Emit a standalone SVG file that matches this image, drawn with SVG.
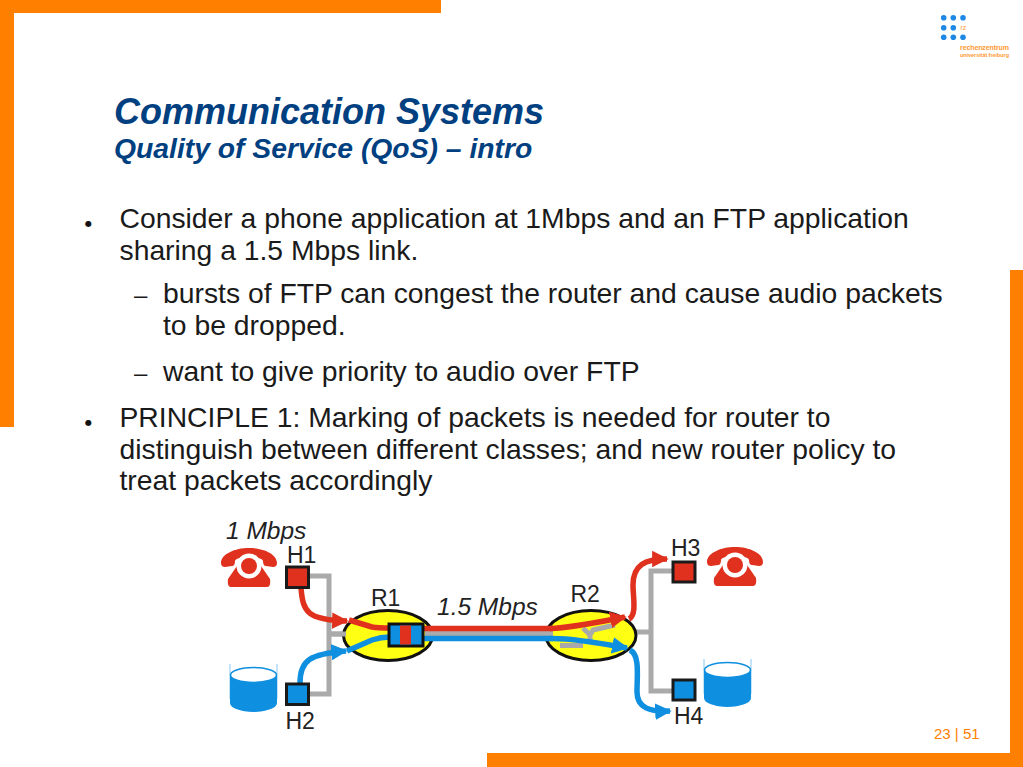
<svg xmlns="http://www.w3.org/2000/svg" width="1023" height="767" viewBox="0 0 1023 767">
<style>
text{font-family:"Liberation Sans",Arial,sans-serif}
.bar{fill:#ff7f00}
.t1{font-size:36px;font-weight:bold;font-style:italic;fill:#004080}
.t2{font-size:28.3px;font-weight:bold;font-style:italic;fill:#004080}
.b{font-size:28.3px;fill:#1a1a1a}
.d{font-size:24px;fill:#1a1a1a}
.bu{font-size:8px;fill:#111;font-family:"DejaVu Sans",sans-serif}
.lab{font-size:23px;fill:#222}
.it{font-style:italic;font-size:24.5px}
.gray{fill:none;stroke:#aaa;stroke-width:5}
.red{fill:none;stroke:#e0301e;stroke-width:5.5}
.blue{fill:none;stroke:#0f8fe0;stroke-width:5.5}
.router{fill:#ffff14;stroke:#111;stroke-width:3}
.host{stroke:#1a1a1a;stroke-width:3}
.or{fill:#ff9933}
</style>
<defs>
<marker id="ar" viewBox="0 0 10 10" refX="9" refY="5" markerWidth="3" markerHeight="3" orient="auto"><path d="M0,0L10,5L0,10Z" fill="#e0301e"/></marker>
<marker id="ab" viewBox="0 0 10 10" refX="9" refY="5" markerWidth="3" markerHeight="3" orient="auto"><path d="M0,0L10,5L0,10Z" fill="#0f8fe0"/></marker>
<g id="phone">
<path d="M-28,-3C-28,-12-14,-18 0,-18C14,-18 28,-12 28,-3C28,0 26,1 24,1L17,0C15,0 14,-2 14,-5C14,-7 8,-9 0,-9C-8,-9-14,-7-14,-5C-14,-2-15,0-17,0L-24,1C-26,1-28,0-28,-3Z" fill="#e0301e"/>
<path d="M-10,-3L10,-3L21,13Q22,21 18,21L-18,21Q-22,21-21,13Z" fill="#e0301e"/>
<circle r="12.5" fill="#fff"/><circle r="8" fill="#e0301e"/>
</g>
<g id="cyl">
<path d="M0,0V34A23.5,8 0 0 0 47,34V0" fill="none" stroke="#0f8fe0" stroke-width="0.5"/>
<path d="M0,11V39A23.5,9 0 0 0 47,39V11Z" fill="#0f8fe0"/>
<ellipse cx="23.5" cy="11" rx="23" ry="7.5" fill="#fff" stroke="#0f8fe0" stroke-width="1.5"/>
</g>
</defs>
<g id="frame">
<rect class="bar" x="0" y="0" width="441" height="13"/>
<rect class="bar" x="0" y="0" width="14" height="427"/>
<rect class="bar" x="1010" y="270" width="13" height="497"/>
<rect class="bar" x="487" y="753" width="536" height="14"/>
</g>
<g id="logo">
<g fill="#1e88e5"><circle cx="943.7" cy="17.7" r="2.8"/><circle cx="953.3" cy="17.7" r="2.8"/><circle cx="963" cy="17.7" r="2.8"/><circle cx="943.7" cy="27.7" r="2.8"/><circle cx="953.3" cy="27.7" r="2.8"/><circle cx="943.7" cy="37.3" r="2.8"/><circle cx="953.3" cy="37.3" r="2.8"/><circle cx="963" cy="37.3" r="2.8"/></g>
<text class="or" x="960.5" y="30" font-size="7">rz</text>
<text class="or" x="960" y="50" font-size="7" font-weight="bold" textLength="49">rechenzentrum</text>
<text class="or" x="960" y="56.5" font-size="5.5" font-weight="bold" textLength="49">universität freiburg</text>
</g>
<g id="title">
<text class="t1" x="114" y="124">Communication Systems</text>
<text class="t2" x="114" y="157.5">Quality of Service (QoS) – intro</text>
</g>
<g id="body">
<text class="bu" x="85" y="226">●</text>
<text class="b" x="119.5" y="227.5">Consider a phone application at 1Mbps and an FTP application</text>
<text class="b" x="119.5" y="259.5">sharing a 1.5 Mbps link.</text>
<text class="d" x="134" y="303">–</text>
<text class="b" x="163" y="302.5">bursts of FTP can congest the router and cause audio packets</text>
<text class="b" x="163" y="334.5">to be dropped.</text>
<text class="d" x="134" y="381">–</text>
<text class="b" x="163" y="380.5">want to give priority to audio over FTP</text>
<text class="bu" x="85" y="425">●</text>
<text class="b" x="119.5" y="426.5">PRINCIPLE 1: Marking of packets is needed for router to</text>
<text class="b" x="119.5" y="458.5">distinguish between different classes; and new router policy to</text>
<text class="b" x="119.5" y="489.5">treat packets accordingly</text>
</g>
<g id="connectors">
<path class="gray" d="M310,576H329V694H310M329,634H346"/>
<path class="gray" d="M672,571H651V691H672M636,632H651"/>
</g>
<g id="R1"><ellipse class="router" cx="388" cy="635.5" rx="44.5" ry="25"/><path class="gray" d="M329,634H346"/></g>
<g id="R2"><ellipse class="router" cx="591" cy="635.5" rx="45" ry="25"/>
<path class="gray" d="M560,645.5H583M583,628L590,635L590,641M615,625L593,630L590,635"/></g>
<g id="flows">
<path class="gray" d="M425,633.5H553"/>
<path class="red" d="M423,628.5H553"/>
<path class="blue" d="M423,638.5H553"/>
<path class="red" d="M301,588C303,612 307,620 347,621" marker-end="url(#ar)"/>
<path class="red" d="M349,620L372,627C378,628 384,628 390,628"/>
<path class="blue" d="M300,683C300,660 310,654 346,651" marker-end="url(#ab)"/>
<path class="blue" d="M347,651L372,640C378,638 384,637 390,637"/>
<path class="red" d="M550,628.5C570,628 600,622 625,617" marker-end="url(#ar)"/>
<path class="blue" d="M550,638.5C572,638 600,643 627,648" marker-end="url(#ab)"/>
<path class="red" d="M629,619C637,615 633,597 633,585C633,565 645,559 667,559" marker-end="url(#ar)"/>
<path class="blue" d="M630,650C640,655 637,675 637,692C637,708 650,712 670,711" marker-end="url(#ab)"/>
</g>
<g id="queue">
<rect x="389" y="624" width="34" height="22" fill="#0f8fe0" stroke="#111" stroke-width="3"/>
<rect x="400" y="625.5" width="11" height="19" fill="#e0301e"/>
</g>
<g id="H1"><rect class="host" x="286.5" y="567" width="22" height="20.5" fill="#e0301e"/><text class="lab" x="287" y="563">H1</text><use href="#phone" x="249" y="566"/></g>
<g id="H2"><rect class="host" x="286.5" y="684" width="22" height="20.5" fill="#0f8fe0"/><text class="lab" x="285.5" y="729">H2</text><use href="#cyl" x="230" y="664"/></g>
<g id="H3"><rect class="host" x="673" y="562" width="22" height="20" fill="#e0301e"/><text class="lab" x="671" y="556">H3</text><use href="#phone" x="735" y="565"/></g>
<g id="H4"><rect class="host" x="673" y="680" width="22" height="20" fill="#0f8fe0"/><text class="lab" x="674" y="724">H4</text><use href="#cyl" x="704" y="659"/></g>
<g id="labels">
<text class="lab it" x="226" y="539">1 Mbps</text>
<text class="lab" x="371" y="605.5">R1</text>
<text class="lab" x="570.5" y="601.5">R2</text>
<text class="lab it" x="437" y="615">1.5 Mbps</text>
</g>
<text x="934" y="739" font-size="15" fill="#ff8000">23 | 51</text>
</svg>
